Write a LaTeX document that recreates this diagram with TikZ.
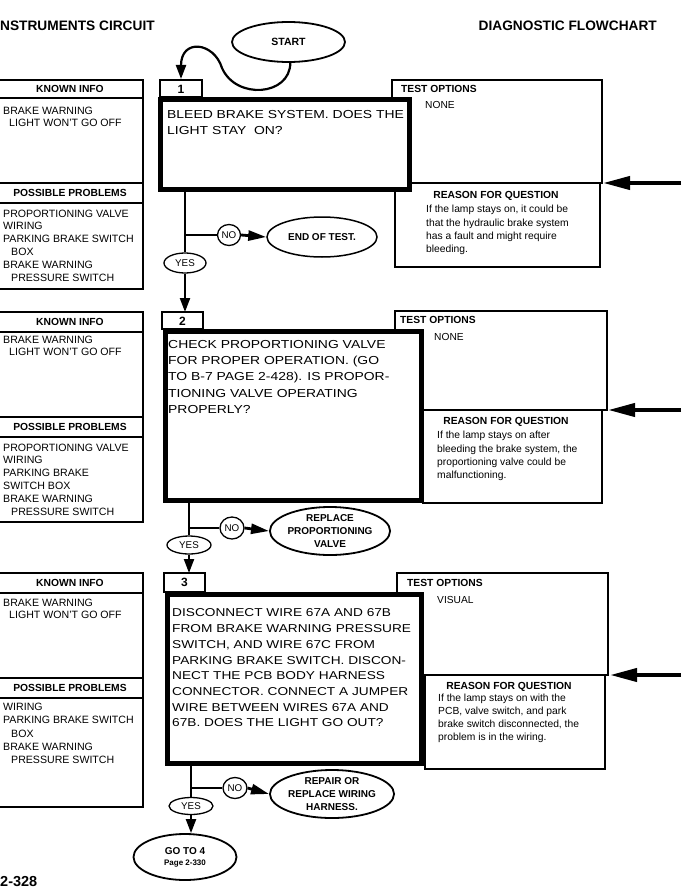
\documentclass[tikz,border=0pt]{standalone}
\usepackage{fontspec}
\setmainfont{Liberation Sans}
\newfontfamily\qfont[FakeStretch=1.2]{Liberation Sans}
\usetikzlibrary{shapes.geometric,arrows.meta}
\tikzset{
  tbox/.style={draw, line width=1.2pt},
  qbox/.style={draw, line width=5pt, fill=white, inner sep=0pt, outer sep=0pt, anchor=north west},
  hdr/.style={inner sep=0pt, font=\bfseries\fontsize{10.3}{12}\selectfont},
  body/.style={inner sep=0pt, anchor=north west, align=left, font=\fontsize{10.6}{12.8}\selectfont},
  rtext/.style={inner sep=0pt, anchor=north west, align=left, font=\fontsize{10.3}{13.4}\selectfont},
  qtext/.style={inner sep=0pt, anchor=north west, align=left},
  tabnum/.style={inner sep=0pt, font=\bfseries\fontsize{12}{14}\selectfont},
  oval/.style={draw, ellipse, line width=1.6pt, inner sep=0pt, align=center, font=\bfseries\fontsize{10}{12.8}\selectfont},
  yesno/.style={draw, ellipse, line width=1.3pt, inner sep=0pt, font=\fontsize{9.8}{11}\selectfont},
  flow/.style={line width=2.2pt},
  flowarrow/.style={line width=2.2pt, -{Triangle[length=14pt,width=10pt]}},
  noarrow/.style={line width=2.8pt, -{Triangle[length=18pt,width=10pt]}},
  bigarrow/.style={line width=4pt, -{Triangle[length=27pt,width=13pt]}},
  title/.style={inner sep=0pt, font=\bfseries\fontsize{13.7}{16}\selectfont}
}
\begin{document}
\begin{tikzpicture}[x=1pt,y=-1pt]
\useasboundingbox (0,0) rectangle (693,891);
\fill[white] (0,0) rectangle (693,891);

% titles
\node[title, anchor=base west] (ttl) at (0,31) {NSTRUMENTS CIRCUIT};
\node[title, anchor=base east] (ttr) at (657,31) {DIAGNOSTIC FLOWCHART};
\node[title, anchor=base west, font=\bfseries\fontsize{14.5}{16}\selectfont] (pg) at (0,886) {2-328};

% START
\node[oval, minimum width=113pt, minimum height=40pt, line width=1.8pt, font=\bfseries\fontsize{10.5}{12}\selectfont] (start) at (288.5,42) {START};

% ===== Section 1 =====
\draw[tbox] (-2,80) rectangle (143,289);
\draw[tbox] (-2,98) -- (143,98);
\draw[tbox] (-2,183) -- (143,183);
\draw[tbox] (-2,203) -- (143,203);
\node[hdr] (ki1h) at (70,89) {KNOWN INFO};
\node[body] (ki1b) at (3,106.5) {BRAKE WARNING\\\hspace*{6pt}LIGHT WON'T GO OFF};
\node[hdr] (pp1h) at (70,193) {POSSIBLE PROBLEMS};
\node[body] (pp1b) at (3,209.5) {PROPORTIONING VALVE\\WIRING\\PARKING BRAKE SWITCH\\\hspace*{8pt}BOX\\BRAKE WARNING\\\hspace*{8pt}PRESSURE SWITCH};

\draw[tbox] (392,80) rectangle (602,183);
\draw[tbox] (395,183) rectangle (600,267);
\node[hdr, anchor=west] (to1h) at (401,89) {TEST OPTIONS};
\node[body, font=\fontsize{10.2}{12}\selectfont] (to1b) at (425,101) {NONE};
\node[hdr] (rq1h) at (496,196) {REASON FOR QUESTION};
\node[rtext] (rq1b) at (426,205) {If the lamp stays on, it could be\\that the hydraulic brake system\\has a fault and might require\\bleeding.};

\draw[tbox] (160,80) rectangle (202,97);
\node[tabnum] (t1) at (181,89) {1};
\node[qbox, minimum width=249pt, minimum height=90pt] (q1) at (160.5,99.5) {};
\node[qtext, font=\qfont\fontsize{11.6}{16.7}\selectfont] (q1t) at (167,109.8) {BLEED BRAKE SYSTEM. DOES THE\\LIGHT STAY\ \ ON?};

\coordinate (to1c) at (603,183);
\coordinate (a1) at (681,183);
\draw[bigarrow] (a1) -- (to1c);

\coordinate (t1top) at (181,79);
\draw[flowarrow] (start.-85) .. controls (290,96) and (236,100) .. (222,68) .. controls (214,42) and (181,38) .. (t1top);

\coordinate (v1) at (185,192);
\coordinate (j1) at (185,235);
\node[yesno, minimum width=23pt, minimum height=21pt] (no1) at (229,235) {NO};
\node[oval, minimum width=110pt, minimum height=40pt, line width=1.5pt] (e1) at (322,237) {END OF TEST.};
\node[yesno, minimum width=42pt, minimum height=20pt] (y1) at (185,263) {YES};
\coordinate (t2top) at (185,312);
\draw[flow] (v1) -- (y1.north);
\draw[flow] (j1) -- (no1.west);
\draw[noarrow] (no1.east) -- (e1.west);
\draw[flowarrow] (y1.south) -- (t2top);

% ===== Section 2 =====
\draw[tbox] (-2,312) rectangle (143,522);
\draw[tbox] (-2,332) -- (143,332);
\draw[tbox] (-2,417) -- (143,417);
\draw[tbox] (-2,437) -- (143,437);
\node[hdr] (ki2h) at (70,322) {KNOWN INFO};
\node[body] (ki2b) at (3,335.5) {BRAKE WARNING\\\hspace*{6pt}LIGHT WON'T GO OFF};
\node[hdr] (pp2h) at (70,427) {POSSIBLE PROBLEMS};
\node[body] (pp2b) at (3,443.5) {PROPORTIONING VALVE\\WIRING\\PARKING BRAKE\\SWITCH BOX\\BRAKE WARNING\\\hspace*{8pt}PRESSURE SWITCH};

\draw[tbox] (395,311) rectangle (607,410);
\draw[tbox] (423,410) rectangle (602,503);
\node[hdr, anchor=west] (to2h) at (400,320) {TEST OPTIONS};
\node[body, font=\fontsize{10.2}{12}\selectfont] (to2b) at (434,333) {NONE};
\node[hdr] (rq2h) at (506,422) {REASON FOR QUESTION};
\node[rtext] (rq2b) at (437,431) {If the lamp stays on after\\bleeding the brake system, the\\proportioning valve could be\\malfunctioning.};

\draw[tbox] (162,312) rectangle (203,329);
\node[tabnum] (t2) at (182.5,321) {2};
\node[qbox, minimum width=256pt, minimum height=169pt] (q2) at (165.5,331.5) {};
\node[qtext, font=\qfont\fontsize{11.6}{16.3}\selectfont] (q2t) at (168,339.8) {CHECK PROPORTIONING VALVE\\FOR PROPER OPERATION. (GO\\TO B-7 PAGE 2-428). IS PROPOR-\\TIONING VALVE OPERATING\\PROPERLY?};

\coordinate (to2c) at (608,410);
\coordinate (a2) at (681,410);
\draw[bigarrow] (a2) -- (to2c);

\coordinate (v2) at (189,503);
\coordinate (j2) at (189,528);
\node[yesno, minimum width=24pt, minimum height=22pt] (no2) at (232,528) {NO};
\node[oval, minimum width=114pt, minimum height=48pt, line width=1.8pt] (e2) at (330,531) {REPLACE\\PROPORTIONING\\VALVE};
\node[yesno, minimum width=44pt, minimum height=18pt] (y2) at (189,545) {YES};
\coordinate (t3top) at (189,573);
\draw[flow] (v2) -- (y2.north);
\draw[flow] (j2) -- (no2.west);
\draw[noarrow] (no2.east) -- (e2.west);
\draw[flowarrow] (y2.south) -- (t3top);

% ===== Section 3 =====
\draw[tbox] (-2,573) rectangle (143,807);
\draw[tbox] (-2,593) -- (143,593);
\draw[tbox] (-2,678) -- (143,678);
\draw[tbox] (-2,698) -- (143,698);
\node[hdr] (ki3h) at (70,583) {KNOWN INFO};
\node[body] (ki3b) at (3,598.5) {BRAKE WARNING\\\hspace*{6pt}LIGHT WON'T GO OFF};
\node[hdr] (pp3h) at (70,688) {POSSIBLE PROBLEMS};
\node[body, font=\fontsize{10.6}{13.2}\selectfont] (pp3b) at (3,703) {WIRING\\PARKING BRAKE SWITCH\\\hspace*{8pt}BOX\\BRAKE WARNING\\\hspace*{8pt}PRESSURE SWITCH};

\draw[tbox] (397,573) rectangle (608,675);
\draw[tbox] (425,675) rectangle (605,769);
\node[hdr, anchor=west] (to3h) at (407,583) {TEST OPTIONS};
\node[body, font=\fontsize{10.2}{12}\selectfont] (to3b) at (437,596) {VISUAL};
\node[hdr] (rq3h) at (509,687) {REASON FOR QUESTION};
\node[rtext, font=\fontsize{10.3}{13}\selectfont] (rq3b) at (438,694) {If the lamp stays on with the\\PCB, valve switch, and park\\brake switch disconnected, the\\problem is in the wiring.};

\draw[tbox] (164,573) rectangle (205,592);
\node[tabnum] (t3) at (184.5,582.5) {3};
\node[qbox, minimum width=254pt, minimum height=169pt] (q3) at (167.5,594.5) {};
\node[qtext, font=\qfont\fontsize{11.4}{15.7}\selectfont] (q3t) at (172,608.8) {DISCONNECT WIRE 67A AND 67B\\FROM BRAKE WARNING PRESSURE\\SWITCH, AND WIRE 67C FROM\\PARKING BRAKE SWITCH. DISCON-\\NECT THE PCB BODY HARNESS\\CONNECTOR. CONNECT A JUMPER\\WIRE BETWEEN WIRES 67A AND\\67B. DOES THE LIGHT GO OUT?};

\coordinate (to3c) at (610,675);
\coordinate (a3) at (681,675);
\draw[bigarrow] (a3) -- (to3c);

\coordinate (v3) at (191,766);
\coordinate (j3) at (191,788);
\node[yesno, minimum width=24pt, minimum height=21pt] (no3) at (235,788) {NO};
\node[oval, minimum width=114pt, minimum height=48pt, line width=1.8pt] (e3) at (332,794) {REPAIR OR\\REPLACE WIRING\\HARNESS.};
\node[yesno, minimum width=44pt, minimum height=17pt] (y3) at (191,806) {YES};
\node[oval, minimum width=103pt, minimum height=46pt, line width=1.8pt] (g4) at (185,857) {GO TO 4\\[-2pt]{\fontsize{8}{10}\selectfont Page 2-330}};
\draw[flow] (v3) -- (y3.north);
\draw[flow] (j3) -- (no3.west);
\draw[noarrow] (no3.east) -- (e3.west);
\draw[flowarrow] (y3.south) -- (y3.south |- g4.north);
\end{tikzpicture}
\end{document}
